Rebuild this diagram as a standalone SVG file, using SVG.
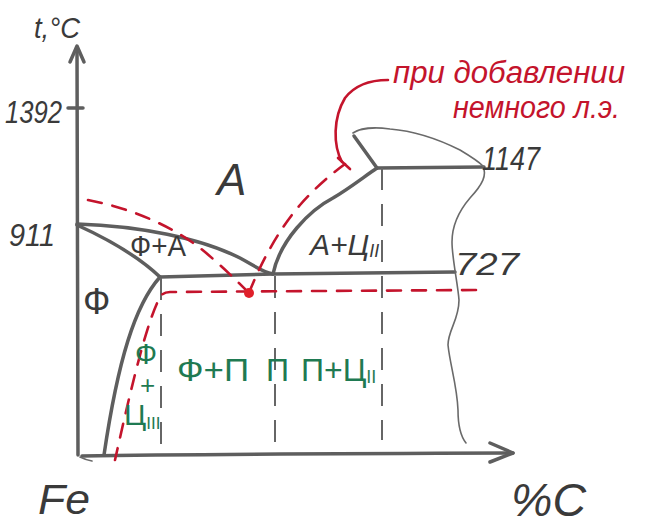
<svg xmlns="http://www.w3.org/2000/svg" width="672" height="527" viewBox="0 0 672 527">
<style>
.ln{fill:none;stroke:#5e5e5e;stroke-width:3.5;stroke-linecap:round;stroke-linejoin:round}
.thin{fill:none;stroke:#6a6a6a;stroke-width:1.6;stroke-linecap:round}
.vd{fill:none;stroke:#666;stroke-width:2;stroke-dasharray:22 14}
.rd{fill:none;stroke:#c4142c;stroke-width:2.6;stroke-dasharray:14 11;stroke-linecap:round}
.rs{fill:none;stroke:#c4142c;stroke-width:2.6;stroke-linecap:round}
.t{font-family:"Liberation Sans",Arial,sans-serif;fill:#3a3a3a}
.g{font-family:"Liberation Sans",Arial,sans-serif;fill:#1f7a52}
.r{font-family:"Liberation Sans",Arial,sans-serif;fill:#c4142c}
</style>
<rect width="672" height="527" fill="#ffffff"/>
<g id="axes">
<path class="ln" d="M77,48 L78,455"/>
<path class="ln" d="M70,62 L77,46 L84,62"/>
<path class="ln" d="M68,108 L83,108"/>
<path class="ln" d="M82,456 Q200,454 513,453"/>
<path class="ln" d="M490,443 L513,453 L490,462"/>
<path class="thin" d="M80,457 Q86,460 92,461"/>
<text class="t" x="34" y="38" font-size="30" textLength="46" lengthAdjust="spacingAndGlyphs" font-style="italic">t,°C</text>
<text class="t" x="5" y="123" font-size="32" textLength="57" lengthAdjust="spacingAndGlyphs" font-style="italic">1392</text>
<text class="t" x="9" y="246" font-size="32" textLength="46" lengthAdjust="spacingAndGlyphs" font-style="italic">911</text>
<text class="t" x="38" y="514" font-size="42" textLength="52" lengthAdjust="spacingAndGlyphs" font-style="italic">Fe</text>
<text class="t" x="511" y="516" font-size="46" textLength="75" lengthAdjust="spacingAndGlyphs" font-style="italic">%C</text>
</g>
<g id="connectors">
<path class="ln" d="M77,224 C140,226 200,238 240,258 C255,266 262,272 273,274"/>
<path class="ln" d="M77,225 C110,240 140,258 160,277"/>
<path class="ln" d="M160,277 L273,274 L455,272"/>
<path class="ln" d="M160,277 C135,305 118,360 104,455"/>
<path class="ln" d="M273,274 C280,240 310,210 333,198 C350,188 365,176 377,168"/>
<path class="ln" d="M377,168 L484,167"/>
<path class="ln" d="M377,168 L354,136"/>
<path class="thin" d="M353,133 C360,128 375,127 390,129 C415,131 440,140 460,150 C470,156 478,161 483,166 C487,175 483,184 470,198 C458,212 452,225 452,242 C452,258 458,285 459,300 C459,320 448,330 448,345 C450,365 457,385 458,410 C458,428 462,438 466,443"/>
<path class="vd" d="M382,168 L382,440"/>
<path class="vd" d="M275,276 L275,455"/>
<path class="vd" d="M161,278 L161,455"/>
<path class="rd" d="M88,200 C130,208 170,225 200,248 C220,264 238,282 249,293"/>
<path class="rd" d="M476,290 L170,292 Q163,292 160,297 C148,320 135,370 115,460"/>
<path class="rd" d="M249,293 C262,260 280,228 300,205 C315,188 330,175 345,164"/>
<path class="rs" d="M338,158 L350,169"/>
<path class="rs" d="M342,162 C333,145 333,118 345,98 C355,85 370,80 388,80"/>
<circle cx="249" cy="293" r="5" fill="#e0202a"/>
</g>
<g id="labels">
<text class="r" x="393" y="83" font-size="31" textLength="232" lengthAdjust="spacingAndGlyphs" font-style="italic">при добавлении</text>
<text class="r" x="453" y="118" font-size="31" textLength="167" lengthAdjust="spacingAndGlyphs" font-style="italic">немного л.э.</text>
<text class="t" x="482" y="170" font-size="34" textLength="58" lengthAdjust="spacingAndGlyphs" font-style="italic">1147</text>
<text class="t" x="455" y="275" font-size="32" textLength="64" lengthAdjust="spacingAndGlyphs" font-style="italic">727</text>
<text class="t" x="217" y="195" font-size="44" font-style="italic">А</text>
<text class="t" x="130" y="256" font-size="30" textLength="56" lengthAdjust="spacingAndGlyphs">Ф+А</text>
<text class="t" x="83" y="314" font-size="36">Ф</text>
<text class="t" x="310" y="255" font-size="30" font-style="italic">А+Ц<tspan font-size="18" dy="2">II</tspan></text>
<text class="g" x="135" y="364" font-size="29">Ф</text>
<text class="g" x="140" y="394" font-size="26">+</text>
<text class="g" x="124" y="425" font-size="30">Ц<tspan font-size="17" dy="4">III</tspan></text>
<text class="g" x="177" y="381" font-size="32" textLength="72" lengthAdjust="spacingAndGlyphs">Ф+П</text>
<text class="g" x="266" y="381" font-size="32">П</text>
<text class="g" x="301" y="381" font-size="32">П+Ц<tspan font-size="18" dy="2">II</tspan></text>
</g>
</svg>
